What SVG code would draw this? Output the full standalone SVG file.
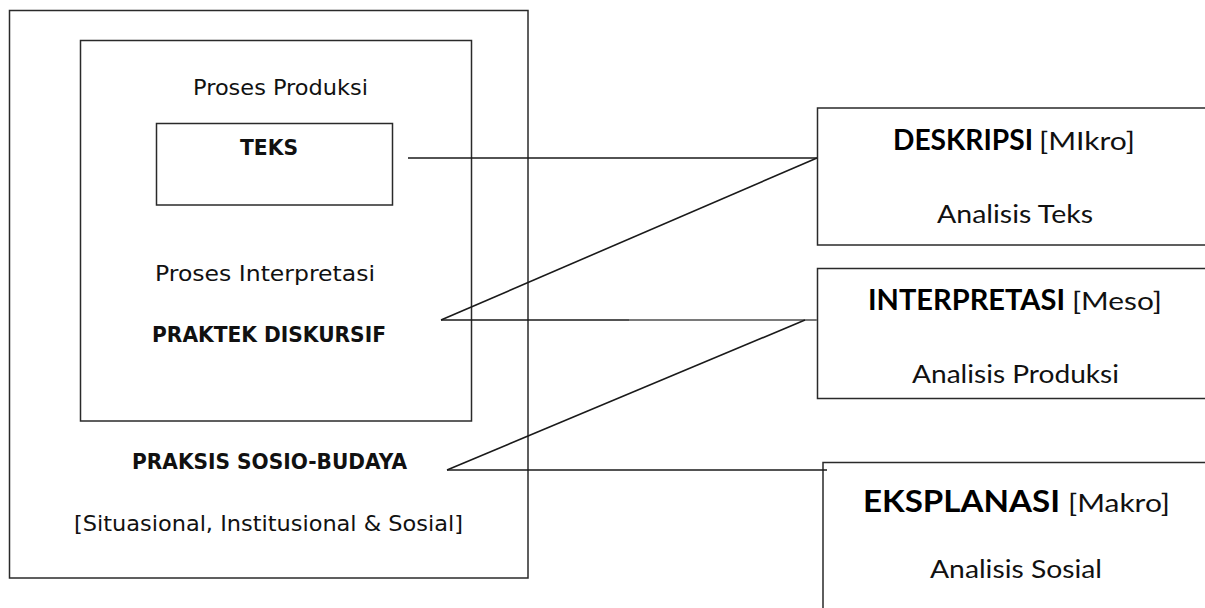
<svg xmlns="http://www.w3.org/2000/svg" width="1205" height="608" viewBox="0 0 1205 608">
  <style>
    .box { fill: none; stroke: #2a2a2a; stroke-width: 1.5; }
    .link { fill: none; stroke: #1a1a1a; stroke-width: 1.6; }
    .link-soft { fill: none; stroke: #7a7a7a; stroke-width: 1.8; }
    .tah { font-family: "DejaVu Sans", "Noto Sans", sans-serif; fill: #111; }
    .tah-b { font-family: "DejaVu Sans", "Noto Sans", sans-serif; font-weight: bold; fill: #111; }
    .cal { font-family: Lato, "Liberation Sans", sans-serif; fill: #111; }
    .cal-b { font-family: Lato, "Liberation Sans", sans-serif; font-weight: bold; fill: #000; }
  </style>

  <rect width="1205" height="608" fill="#ffffff"/>

  <!-- outer frame: socio-cultural practice -->
  <g id="praksis">
    <rect class="box" x="9.5" y="10.5" width="518.5" height="567.5"/>
    <text class="tah-b" x="132" y="469" font-size="22" textLength="275" lengthAdjust="spacingAndGlyphs">PRAKSIS SOSIO-BUDAYA</text>
    <text class="tah" x="74" y="531" font-size="20.5" textLength="389" lengthAdjust="spacingAndGlyphs">[Situasional, Institusional &amp; Sosial]</text>
  </g>

  <!-- inner frame: discursive practice -->
  <g id="praktek">
    <rect class="box" x="80.5" y="40.5" width="391" height="380.5"/>
    <text class="tah" x="193" y="95" font-size="21" textLength="175" lengthAdjust="spacingAndGlyphs">Proses Produksi</text>
    <text class="tah" x="155" y="281" font-size="21" textLength="220" lengthAdjust="spacingAndGlyphs">Proses Interpretasi</text>
    <text class="tah-b" x="152" y="342" font-size="22" textLength="234" lengthAdjust="spacingAndGlyphs">PRAKTEK DISKURSIF</text>
  </g>

  <!-- text box -->
  <g id="teks">
    <rect class="box" x="156.5" y="123.5" width="236" height="81.5"/>
    <text class="tah-b" x="240" y="155" font-size="22" textLength="58" lengthAdjust="spacingAndGlyphs">TEKS</text>
  </g>

  <!-- analysis levels -->
  <g id="deskripsi">
    <rect class="box" x="817.5" y="108" width="400" height="137"/>
    <text class="cal-b" x="893" y="150" font-size="28" textLength="140" lengthAdjust="spacingAndGlyphs">DESKRIPSI</text>
    <text class="cal" x="1039" y="150" font-size="25" textLength="96" lengthAdjust="spacingAndGlyphs">[MIkro]</text>
    <text class="cal" x="937" y="223" font-size="25" textLength="156" lengthAdjust="spacingAndGlyphs">Analisis Teks</text>
  </g>

  <g id="interpretasi">
    <rect class="box" x="817.5" y="268.5" width="400" height="130"/>
    <text class="cal-b" x="868" y="310" font-size="28" textLength="197" lengthAdjust="spacingAndGlyphs">INTERPRETASI</text>
    <text class="cal" x="1072" y="310" font-size="25" textLength="90" lengthAdjust="spacingAndGlyphs">[Meso]</text>
    <text class="cal" x="912" y="383" font-size="25" textLength="207" lengthAdjust="spacingAndGlyphs">Analisis Produksi</text>
  </g>

  <g id="eksplanasi">
    <rect class="box" x="823" y="462.5" width="400" height="160"/>
    <text class="cal-b" x="863" y="512" font-size="31" textLength="197" lengthAdjust="spacingAndGlyphs">EKSPLANASI</text>
    <text class="cal" x="1068" y="512" font-size="25" textLength="102" lengthAdjust="spacingAndGlyphs">[Makro]</text>
    <text class="cal" x="930" y="578" font-size="25" textLength="172" lengthAdjust="spacingAndGlyphs">Analisis Sosial</text>
  </g>

  <!-- connectors -->
  <g id="connectors">
    <line class="link" x1="408" y1="158" x2="817" y2="158"/>
    <line class="link" x1="441" y1="320" x2="817" y2="158"/>
    <line class="link" x1="441" y1="320" x2="629" y2="320"/>
    <line class="link-soft" x1="629" y1="320" x2="817" y2="320"/>
    <line class="link" x1="805" y1="320" x2="447" y2="470"/>
    <line class="link" x1="447" y1="470" x2="827" y2="470"/>
  </g>
</svg>
